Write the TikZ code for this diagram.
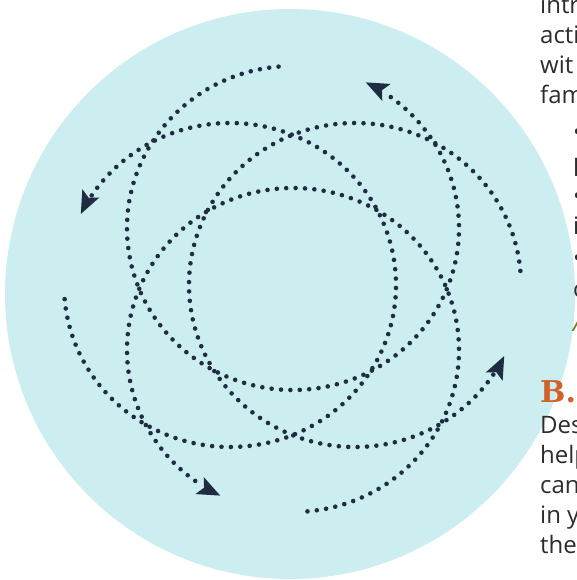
\documentclass[tikz,border=0pt]{standalone}
\usepackage{fontspec}
\setmainfont{Open Sans}
\newfontfamily\slabfont{DejaVu Serif}
\usetikzlibrary{calc}
\definecolor{bgcyan}{RGB}{205,238,241}
\definecolor{navy}{RGB}{31,44,66}
\definecolor{bodytext}{RGB}{45,45,45}
\definecolor{orangehead}{RGB}{209,96,42}
\definecolor{olivetext}{RGB}{122,122,32}
\begin{document}
\begin{tikzpicture}[x=1pt,y=1pt,
  dotline/.style={navy, line width=4.6pt, line cap=round, dash pattern=on 0pt off 9.4pt},
  tiphead/.style={fill=navy},
  bodytxt/.style={font=\fontsize{24}{28}\selectfont, text=bodytext, inner sep=0pt, anchor=base west},
  headtxt/.style={font=\slabfont\bfseries\fontsize{30}{31}\selectfont, text=orangehead, inner sep=0pt, anchor=base west}]
\useasboundingbox (0,0) rectangle (577,-580);
\clip (0,0) rectangle (577,-580);
\fill[bgcyan] (290,-294) circle (285);

\coordinate (cL) at (230,-285);
\coordinate (cT) at (293,-228);
\coordinate (cR) at (355,-285);
\coordinate (cB) at (293,-350);

\foreach \c/\s in {L/185,T/95,R/5,B/275}{
  \pgfmathsetmacro\e{\s+329}
  \pgfmathsetmacro\r{\s+329+90}
  \draw[dotline] (c\c) ++(\s:166 and 162) arc[start angle=\s, delta angle=322, x radius=166, y radius=162];
  \path (c\c) ++(\e:166 and 162) coordinate (t\c);
  \fill[tiphead, shift={(t\c)}, rotate=\r] (0,0) -- (-23,9.5) -- (-18,0) -- (-23,-9.5) -- cycle;
}

\node[bodytxt] (w1) at (540,-14) {intr};
\node[bodytxt] (w2) at (540,-44) {acti};
\node[bodytxt] (w3) at (540,-74) {wit};
\node[bodytxt] (w4) at (540,-104) {fam};
\node[bodytxt] (b1) at (573,-141) {•};
\node[bodytxt] (l1) at (573,-176) {l};
\node[bodytxt] (b2) at (573,-204) {•};
\node[bodytxt] (l2) at (573,-234) {i};
\node[bodytxt] (b3) at (573,-266) {•};
\node[bodytxt] (l3) at (573,-297) {c};
\node[bodytxt, text=olivetext] (l4) at (573,-331) {\itshape A};
\node[headtxt] (h1) at (540,-402) {B.5};
\node[bodytxt] (d1) at (540,-433) {Des};
\node[bodytxt] (d2) at (540,-463) {help};
\node[bodytxt] (d3) at (540,-493) {can};
\node[bodytxt] (d4) at (540,-523) {in y};
\node[bodytxt] (d5) at (540,-553) {the};
\end{tikzpicture}
\end{document}
